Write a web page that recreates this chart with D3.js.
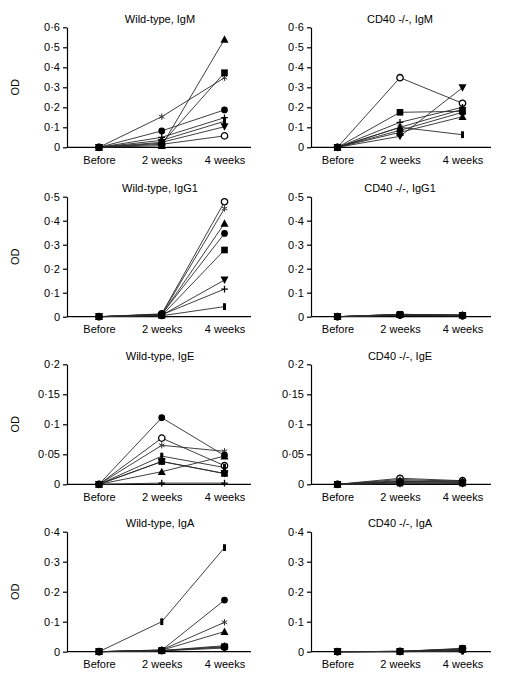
<!DOCTYPE html>
<html><head><meta charset="utf-8">
<script src="https://cdn.jsdelivr.net/npm/d3@7"></script>
<style>
body{margin:0;background:#fff;}
svg text{font-family:"Liberation Sans",Arial,sans-serif;fill:#000;}
</style></head>
<body><svg id="c" width="509" height="674"></svg>
<script>
// ---- data ----
const categories = ["Before", "2 weeks", "4 weeks"];
// marker per series (same order in every panel)
const seriesMarkers = ["openCircle", "asterisk", "triangle", "circle", "triangleDown", "plus", "bar", "square"];
// values per series: [Before, 2 weeks, 4 weeks]
const wtIgM = [
  [0, 0.015, 0.057], [0, 0.153, 0.348], [0, 0.008, 0.540], [0, 0.082, 0.187],
  [0, 0.025, 0.103], [0, 0.050, 0.148], [0, 0.035, 0.130], [0, 0.020, 0.373]
];
const cdIgM = [
  [0, 0.348, 0.220], [0, 0.100, 0.190], [0, 0.075, 0.153], [0, 0.085, 0.175],
  [0, 0.055, 0.298], [0, 0.125, 0.200], [0, 0.100, 0.063], [0, 0.175, 0.180]
];
const wtIgG1 = [
  [0, 0.012, 0.479], [0, 0.010, 0.451], [0, 0.008, 0.389], [0, 0.010, 0.347],
  [0, 0.006, 0.153], [0, 0.008, 0.115], [0, 0.004, 0.042], [0, 0.005, 0.278]
];
const cdIgG1 = [
  [0, 0.008, 0.004], [0, 0.010, 0.006], [0, 0.009, 0.008], [0, 0.007, 0.005],
  [0, 0.006, 0.004], [0, 0.008, 0.005], [0, 0.005, 0.003], [0, 0.010, 0.006]
];
const wtIgE = [
  [0, 0.077, 0.031], [0, 0.065, 0.055], [0, 0.021, 0.047], [0, 0.111, 0.048],
  [0, 0.038, 0.018], [0, 0.002, 0.002], [0, 0.047, 0.028], [0, 0.038, 0.018]
];
const cdIgE = [
  [0, 0.010, 0.006], [0, 0.008, 0.005], [0, 0.006, 0.004], [0, 0.005, 0.003],
  [0, 0.001, 0.001], [0, 0.004, 0.006], [0, 0.003, 0.002], [0, 0.002, 0.002]
];
const wtIgA = [
  [0, 0.004, 0.015], [0, 0.006, 0.098], [0, 0.005, 0.067], [0, 0.005, 0.172],
  [0, 0.003, 0.012], [0, 0.004, 0.020], [0, 0.100, 0.347], [0, 0.003, 0.017]
];
const cdIgA = [
  [0, 0.001, 0.010], [0, 0.001, 0.009], [0, 0.001, 0.008], [0, 0.001, 0.006],
  [0, 0.000, 0.003], [0, 0.001, 0.004], [0, 0.000, 0.002], [0, 0.001, 0.011]
];
const titles = ["Wild-type, IgM", "CD40 -/-, IgM", "Wild-type, IgG1", "CD40 -/-, IgG1",
                "Wild-type, IgE", "CD40 -/-, IgE", "Wild-type, IgA", "CD40 -/-, IgA"];
const yMax = [0.6, 0.6, 0.5, 0.5, 0.2, 0.2, 0.4, 0.4];
const yTickStep = [0.1, 0.1, 0.1, 0.1, 0.05, 0.05, 0.1, 0.1];
const panelData = [wtIgM, cdIgM, wtIgG1, cdIgG1, wtIgE, cdIgE, wtIgA, cdIgA];
const yLabel = "OD";

// ---- layout ----
const svg = d3.select("#c");
const tops = [27.3, 196.7, 364.3, 531.7];
const plotH = 120;
const cols = [
  {axisX: 67, axisEnd: 251, cat: [99, 224.5], titleX: 160},
  {axisX: 311, axisEnd: 491, cat: [337.5, 462.5], titleX: 400}
];
const FS = 11;

const fmt = v => v === 0 ? "0" : d3.format("")(+v.toFixed(2)).replace(".", "\u00B7");

const customSymbols = {
  asterisk: {draw(ctx, size) {
    const r = Math.sqrt(size) / 2;
    for (let k = 0; k < 3; k++) {
      const a = Math.PI / 2 + k * Math.PI / 3;
      ctx.moveTo(r * Math.cos(a), r * Math.sin(a));
      ctx.lineTo(-r * Math.cos(a), -r * Math.sin(a));
    }
  }},
  plus: {draw(ctx, size) {
    const r = Math.sqrt(size) / 2;
    ctx.moveTo(-r, 0); ctx.lineTo(r, 0);
    ctx.moveTo(0, -r); ctx.lineTo(0, r);
  }},
  bar: {draw(ctx, size) {
    const h = Math.sqrt(size), w = h * 0.45;
    ctx.rect(-w / 2, -h / 2, w, h);
  }},
  triangleDown: {draw(ctx, size) {
    const s = Math.sqrt(size);
    ctx.moveTo(-s / 2, -s * 0.42); ctx.lineTo(s / 2, -s * 0.42); ctx.lineTo(0, s * 0.5); ctx.closePath();
  }},
  triangleUp: {draw(ctx, size) {
    const s = Math.sqrt(size);
    ctx.moveTo(-s / 2, s * 0.42); ctx.lineTo(s / 2, s * 0.42); ctx.lineTo(0, -s * 0.5); ctx.closePath();
  }}
};
function markerPath(kind) {
  switch (kind) {
    case "openCircle": return d3.symbol(d3.symbolCircle, 32)();
    case "circle": return d3.symbol(d3.symbolCircle, 36)();
    case "square": return d3.symbol(d3.symbolSquare, 44)();
    case "triangle": return d3.symbol(customSymbols.triangleUp, 64)();
    case "triangleDown": return d3.symbol(customSymbols.triangleDown, 64)();
    case "asterisk": return d3.symbol(customSymbols.asterisk, 40)();
    case "plus": return d3.symbol(customSymbols.plus, 44)();
    case "bar": return d3.symbol(customSymbols.bar, 46)();
  }
}
function markerStyle(sel, kind) {
  if (kind === "openCircle") sel.attr("fill", "#fff").attr("stroke", "#000").attr("stroke-width", 1.3);
  else if (kind === "asterisk") sel.attr("fill", "none").attr("stroke", "#333").attr("stroke-width", 1);
  else if (kind === "plus") sel.attr("fill", "none").attr("stroke", "#000").attr("stroke-width", 1.3);
  else sel.attr("fill", "#000").attr("stroke", "none");
}

panelData.forEach((data, i) => {
  const row = Math.floor(i / 2), col = cols[i % 2];
  const top = tops[row], bottom = top + plotH;
  const y = d3.scaleLinear().domain([0, yMax[i]]).range([bottom, top]);
  const x = d3.scalePoint().domain(categories).range(col.cat);
  const g = svg.append("g");

  // y axis
  const ticks = d3.range(0, yMax[i] + 1e-9, yTickStep[i]);
  const ya = g.append("g").attr("transform", `translate(${col.axisX},0)`)
    .call(d3.axisLeft(y).tickValues(ticks).tickFormat(fmt).tickSize(4).tickPadding(3).tickSizeOuter(0));
  ya.select(".domain").attr("stroke", "#000").attr("stroke-width", 1.2);
  ya.selectAll(".tick line").attr("stroke", "#000").attr("stroke-width", 1.2);
  ya.selectAll("text").attr("font-size", FS).attr("font-family", "Liberation Sans, Arial, sans-serif");

  // x axis
  g.append("line").attr("x1", col.axisX).attr("x2", col.axisEnd)
    .attr("y1", bottom).attr("y2", bottom).attr("stroke", "#000").attr("stroke-width", 1.2);
  const xa = g.append("g").attr("transform", `translate(0,${bottom})`)
    .call(d3.axisBottom(x).tickSize(0).tickPadding(9));
  xa.select(".domain").remove();
  xa.selectAll("text").attr("font-size", FS).attr("font-family", "Liberation Sans, Arial, sans-serif");

  // title
  g.append("text").attr("x", col.titleX).attr("y", top - 4.5).attr("text-anchor", "middle")
    .attr("font-size", FS).text(titles[i]);

  if (i % 2 === 0) {
    g.append("text").attr("transform", `translate(19,${(top + bottom) / 2}) rotate(-90)`)
      .attr("text-anchor", "middle").attr("font-size", FS).text(yLabel);
  }

  const line = d3.line().x((d, j) => x(categories[j])).y(d => y(d));
  g.selectAll("path.series").data(data).join("path").attr("class", "series")
    .attr("d", line).attr("fill", "none").attr("stroke", "#2a2a2a").attr("stroke-width", 0.9);

  data.forEach((s, k) => {
    const kind = seriesMarkers[k];
    s.forEach((v, j) => {
      const p = g.append("path").attr("d", markerPath(kind))
        .attr("transform", `translate(${x(categories[j])},${y(v)})`);
      markerStyle(p, kind);
    });
  });
});
</script></body></html>
